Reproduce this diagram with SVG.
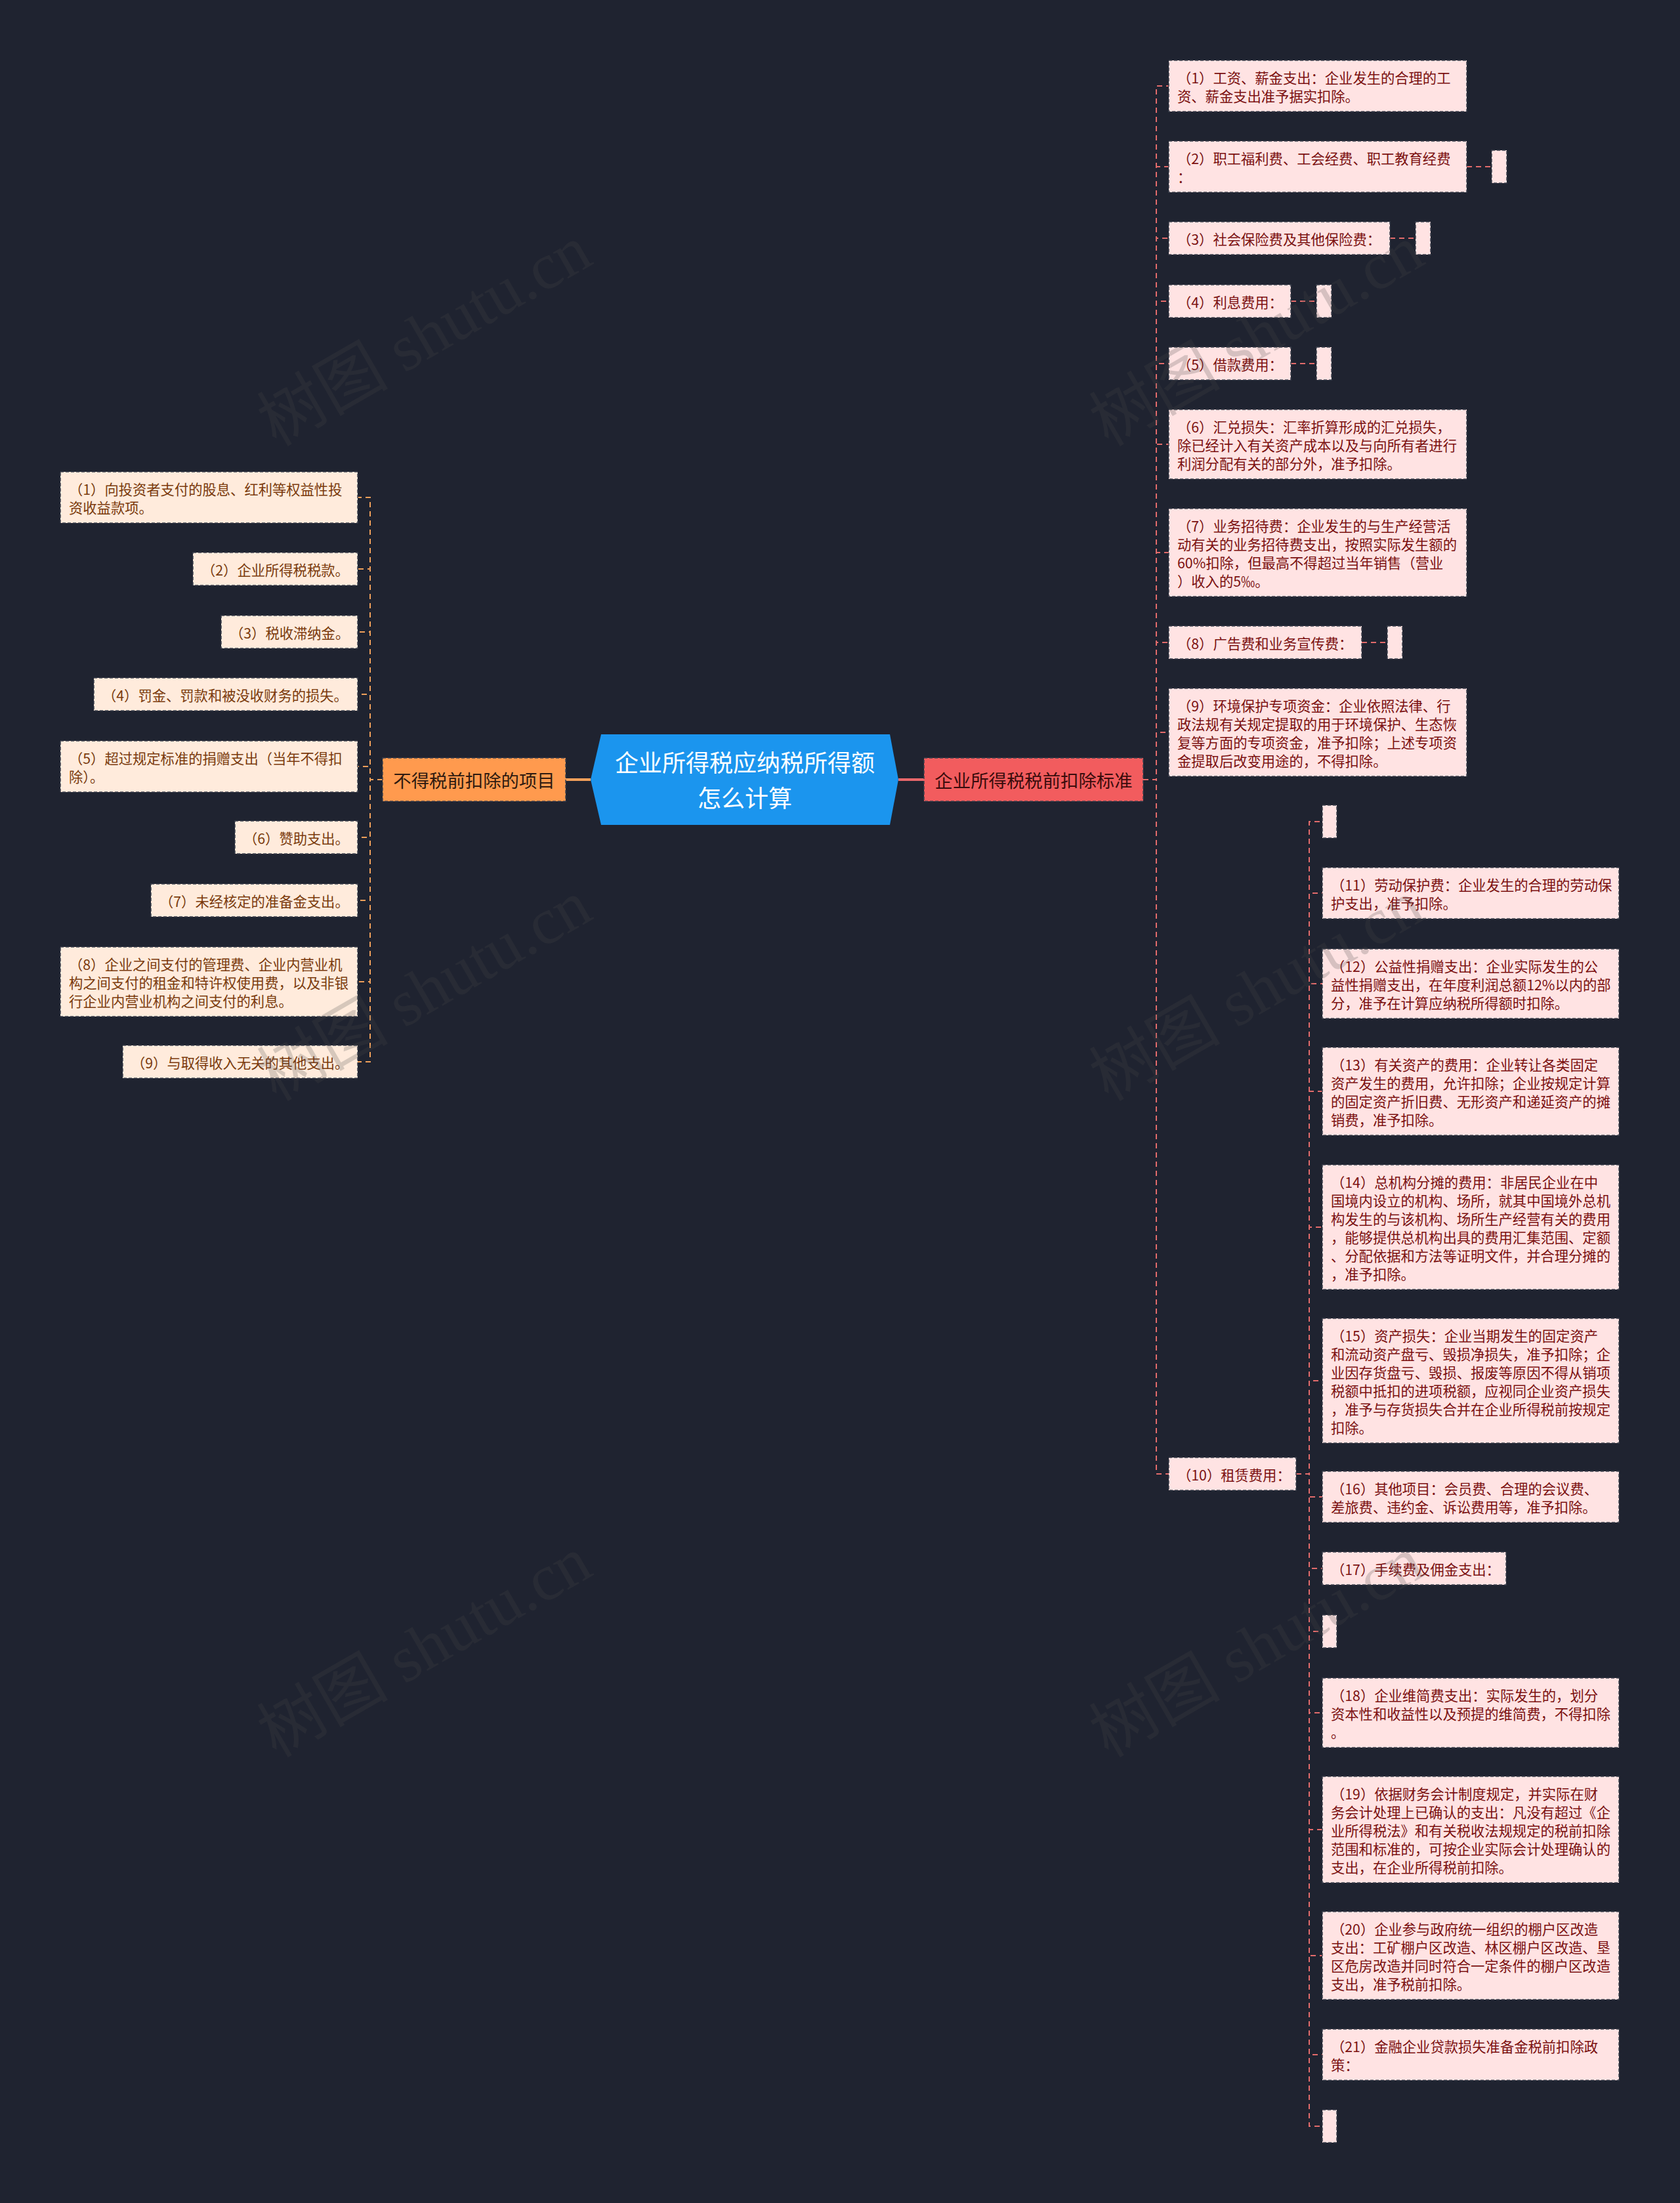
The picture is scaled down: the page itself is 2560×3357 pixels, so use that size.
<svg xmlns="http://www.w3.org/2000/svg" width="2560" height="3357" viewBox="0 0 2560 3357">
<style>
.bg{fill:#1F2330}
.rb{fill:#FFE3E3;stroke:#3d414d;stroke-width:1.5;stroke-dasharray:5 3}
.lb{fill:#FFEBDC;stroke:#3d414d;stroke-width:1.5;stroke-dasharray:5 3}
.t{font-family:"Noto Sans CJK SC","Noto Sans",sans-serif;font-size:21.3px;dominant-baseline:central}
.rt{fill:#7B1010}
.lt{fill:#7A3A0C}
.rc{fill:none;stroke:#E26B6B;stroke-width:2;stroke-dasharray:8 6}
.lc{fill:none;stroke:#F0A05A;stroke-width:2;stroke-dasharray:8 6}
.wm{font-family:"Liberation Serif","Noto Sans CJK SC",serif;font-size:100px;fill:#4a4a4a;opacity:0.22;text-anchor:middle;dominant-baseline:central}
</style>
<rect class="bg" x="0" y="0" width="2560" height="3357"/>

<g id="connectors">
<path d="M900 1188H862" stroke="#F5A05A" stroke-width="4" fill="none"/>
<path d="M1369 1188H1408" stroke="#E8676B" stroke-width="4" fill="none"/>
<path class="rc" d="M1742 1188H1762V131H1781"/>
<path class="rc" d="M1742 1188H1762V254H1781"/>
<path class="rc" d="M1742 1188H1762V363H1781"/>
<path class="rc" d="M1742 1188H1762V459H1781"/>
<path class="rc" d="M1742 1188H1762V554H1781"/>
<path class="rc" d="M1742 1188H1762V677H1781"/>
<path class="rc" d="M1742 1188H1762V842H1781"/>
<path class="rc" d="M1742 1188H1762V979H1781"/>
<path class="rc" d="M1742 1188H1762V1116H1781"/>
<path class="rc" d="M1742 1188H1762V2246H1781"/>
<path class="rc" d="M2235 254H2273"/>
<path class="rc" d="M2118 363H2157"/>
<path class="rc" d="M1967 459H2006"/>
<path class="rc" d="M1967 554H2006"/>
<path class="rc" d="M2075 979H2114"/>
<path class="rc" d="M1975 2246H1995V1252H2015"/>
<path class="rc" d="M1975 2246H1995V1361H2015"/>
<path class="rc" d="M1975 2246H1995V1499H2015"/>
<path class="rc" d="M1975 2246H1995V1663H2015"/>
<path class="rc" d="M1975 2246H1995V1870H2015"/>
<path class="rc" d="M1975 2246H1995V2104H2015"/>
<path class="rc" d="M1975 2246H1995V2281H2015"/>
<path class="rc" d="M1975 2246H1995V2390H2015"/>
<path class="rc" d="M1975 2246H1995V2486H2015"/>
<path class="rc" d="M1975 2246H1995V2610H2015"/>
<path class="rc" d="M1975 2246H1995V2788H2015"/>
<path class="rc" d="M1975 2246H1995V2980H2015"/>
<path class="rc" d="M1975 2246H1995V3131H2015"/>
<path class="rc" d="M1975 2246H1995V3240H2015"/>
<path class="lc" d="M583 1188H564V758H545"/>
<path class="lc" d="M583 1188H564V867H545"/>
<path class="lc" d="M583 1188H564V963H545"/>
<path class="lc" d="M583 1188H564V1058H545"/>
<path class="lc" d="M583 1188H564V1168H545"/>
<path class="lc" d="M583 1188H564V1276H545"/>
<path class="lc" d="M583 1188H564V1372H545"/>
<path class="lc" d="M583 1188H564V1496H545"/>
<path class="lc" d="M583 1188H564V1618H545"/>
</g>

<g id="root">
<polygon points="916,1119 1356,1119 1369,1188 1356,1257 916,1257 900,1188" fill="#1B95EE"/>
<text x="1135" y="1160" font-family="Noto Sans CJK SC, sans-serif" font-size="36" fill="#FFFFFF" text-anchor="middle" dominant-baseline="central">企业所得税应纳税所得额</text>
<text x="1135" y="1214" font-family="Noto Sans CJK SC, sans-serif" font-size="36" fill="#FFFFFF" text-anchor="middle" dominant-baseline="central">怎么计算</text>
</g>

<g id="branch-left">
<rect x="583" y="1155" width="279" height="66" fill="#FF9A4E" stroke="#3d414d" stroke-width="1.5" stroke-dasharray="5 3"/>
<text x="722.5" y="1188" font-family="Noto Sans CJK SC, sans-serif" font-size="27.4" fill="#2E1A10" text-anchor="middle" dominant-baseline="central">不得税前扣除的项目</text>
</g>
<g id="branch-right">
<rect x="1408" y="1155" width="334" height="66" fill="#F25C5E" stroke="#3d414d" stroke-width="1.5" stroke-dasharray="5 3"/>
<text x="1575" y="1188" font-family="Noto Sans CJK SC, sans-serif" font-size="27.4" fill="#3A0C0C" text-anchor="middle" dominant-baseline="central">企业所得税税前扣除标准</text>
</g>

<g id="r1"><rect class="rb" x="1781" y="92" width="454" height="78"/><text class="t rt" x="1794" y="117"><tspan x="1794">（1）工资、薪金支出：企业发生的合理的工</tspan><tspan x="1794" dy="28">资、薪金支出准予据实扣除。</tspan></text></g>
<g id="r2"><rect class="rb" x="1781" y="215" width="454" height="78"/><text class="t rt" x="1794" y="240"><tspan x="1794">（2）职工福利费、工会经费、职工教育经费</tspan><tspan x="1794" dy="28">：</tspan></text></g>
<g id="r2e"><rect class="rb" x="2273" y="229" width="23" height="50"/></g>
<g id="r3"><rect class="rb" x="1781" y="338" width="337" height="50"/><text class="t rt" x="1794" y="363">（3）社会保险费及其他保险费：</text></g>
<g id="r3e"><rect class="rb" x="2157" y="338" width="23" height="50"/></g>
<g id="r4"><rect class="rb" x="1781" y="434" width="186" height="50"/><text class="t rt" x="1794" y="459">（4）利息费用：</text></g>
<g id="r4e"><rect class="rb" x="2006" y="434" width="23" height="50"/></g>
<g id="r5"><rect class="rb" x="1781" y="529" width="186" height="50"/><text class="t rt" x="1794" y="554">（5）借款费用：</text></g>
<g id="r5e"><rect class="rb" x="2006" y="529" width="23" height="50"/></g>
<g id="r6"><rect class="rb" x="1781" y="624" width="454" height="106"/><text class="t rt" x="1794" y="649"><tspan x="1794">（6）汇兑损失：汇率折算形成的汇兑损失，</tspan><tspan x="1794" dy="28">除已经计入有关资产成本以及与向所有者进行</tspan><tspan x="1794" dy="28">利润分配有关的部分外，准予扣除。</tspan></text></g>
<g id="r7"><rect class="rb" x="1781" y="775" width="454" height="134"/><text class="t rt" x="1794" y="800"><tspan x="1794">（7）业务招待费：企业发生的与生产经营活</tspan><tspan x="1794" dy="28">动有关的业务招待费支出，按照实际发生额的</tspan><tspan x="1794" dy="28">60%扣除，但最高不得超过当年销售（营业</tspan><tspan x="1794" dy="28">）收入的5‰。</tspan></text></g>
<g id="r8"><rect class="rb" x="1781" y="954" width="294" height="50"/><text class="t rt" x="1794" y="979">（8）广告费和业务宣传费：</text></g>
<g id="r8e"><rect class="rb" x="2114" y="954" width="23" height="50"/></g>
<g id="r9"><rect class="rb" x="1781" y="1049" width="454" height="134"/><text class="t rt" x="1794" y="1074"><tspan x="1794">（9）环境保护专项资金：企业依照法律、行</tspan><tspan x="1794" dy="28">政法规有关规定提取的用于环境保护、生态恢</tspan><tspan x="1794" dy="28">复等方面的专项资金，准予扣除；上述专项资</tspan><tspan x="1794" dy="28">金提取后改变用途的，不得扣除。</tspan></text></g>
<g id="r10"><rect class="rb" x="1781" y="2221" width="194" height="50"/><text class="t rt" x="1794" y="2246">（10）租赁费用：</text></g>

<g id="c0"><rect class="rb" x="2015" y="1227" width="22" height="50"/></g>
<g id="c11"><rect class="rb" x="2015" y="1322" width="452" height="78"/><text class="t rt" x="2028" y="1347"><tspan x="2028">（11）劳动保护费：企业发生的合理的劳动保</tspan><tspan x="2028" dy="28">护支出，准予扣除。</tspan></text></g>
<g id="c12"><rect class="rb" x="2015" y="1446" width="452" height="106"/><text class="t rt" x="2028" y="1471"><tspan x="2028">（12）公益性捐赠支出：企业实际发生的公</tspan><tspan x="2028" dy="28">益性捐赠支出，在年度利润总额12%以内的部</tspan><tspan x="2028" dy="28">分，准予在计算应纳税所得额时扣除。</tspan></text></g>
<g id="c13"><rect class="rb" x="2015" y="1596" width="452" height="134"/><text class="t rt" x="2028" y="1621"><tspan x="2028">（13）有关资产的费用：企业转让各类固定</tspan><tspan x="2028" dy="28">资产发生的费用，允许扣除；企业按规定计算</tspan><tspan x="2028" dy="28">的固定资产折旧费、无形资产和递延资产的摊</tspan><tspan x="2028" dy="28">销费，准予扣除。</tspan></text></g>
<g id="c14"><rect class="rb" x="2015" y="1775" width="452" height="190"/><text class="t rt" x="2028" y="1800"><tspan x="2028">（14）总机构分摊的费用：非居民企业在中</tspan><tspan x="2028" dy="28">国境内设立的机构、场所，就其中国境外总机</tspan><tspan x="2028" dy="28">构发生的与该机构、场所生产经营有关的费用</tspan><tspan x="2028" dy="28">，能够提供总机构出具的费用汇集范围、定额</tspan><tspan x="2028" dy="28">、分配依据和方法等证明文件，并合理分摊的</tspan><tspan x="2028" dy="28">，准予扣除。</tspan></text></g>
<g id="c15"><rect class="rb" x="2015" y="2009" width="452" height="190"/><text class="t rt" x="2028" y="2034"><tspan x="2028">（15）资产损失：企业当期发生的固定资产</tspan><tspan x="2028" dy="28">和流动资产盘亏、毁损净损失，准予扣除；企</tspan><tspan x="2028" dy="28">业因存货盘亏、毁损、报废等原因不得从销项</tspan><tspan x="2028" dy="28">税额中抵扣的进项税额，应视同企业资产损失</tspan><tspan x="2028" dy="28">，准予与存货损失合并在企业所得税前按规定</tspan><tspan x="2028" dy="28">扣除。</tspan></text></g>
<g id="c16"><rect class="rb" x="2015" y="2242" width="452" height="78"/><text class="t rt" x="2028" y="2267"><tspan x="2028">（16）其他项目：会员费、合理的会议费、</tspan><tspan x="2028" dy="28">差旅费、违约金、诉讼费用等，准予扣除。</tspan></text></g>
<g id="c17"><rect class="rb" x="2015" y="2365" width="280" height="50"/><text class="t rt" x="2028" y="2390">（17）手续费及佣金支出：</text></g>
<g id="ce2"><rect class="rb" x="2015" y="2461" width="22" height="50"/></g>
<g id="c18"><rect class="rb" x="2015" y="2557" width="452" height="106"/><text class="t rt" x="2028" y="2582"><tspan x="2028">（18）企业维简费支出：实际发生的，划分</tspan><tspan x="2028" dy="28">资本性和收益性以及预提的维简费，不得扣除</tspan><tspan x="2028" dy="28">。</tspan></text></g>
<g id="c19"><rect class="rb" x="2015" y="2707" width="452" height="162"/><text class="t rt" x="2028" y="2732"><tspan x="2028">（19）依据财务会计制度规定，并实际在财</tspan><tspan x="2028" dy="28">务会计处理上已确认的支出：凡没有超过《企</tspan><tspan x="2028" dy="28">业所得税法》和有关税收法规规定的税前扣除</tspan><tspan x="2028" dy="28">范围和标准的，可按企业实际会计处理确认的</tspan><tspan x="2028" dy="28">支出，在企业所得税前扣除。</tspan></text></g>
<g id="c20"><rect class="rb" x="2015" y="2913" width="452" height="134"/><text class="t rt" x="2028" y="2938"><tspan x="2028">（20）企业参与政府统一组织的棚户区改造</tspan><tspan x="2028" dy="28">支出：工矿棚户区改造、林区棚户区改造、垦</tspan><tspan x="2028" dy="28">区危房改造并同时符合一定条件的棚户区改造</tspan><tspan x="2028" dy="28">支出，准予税前扣除。</tspan></text></g>
<g id="c21"><rect class="rb" x="2015" y="3092" width="452" height="78"/><text class="t rt" x="2028" y="3117"><tspan x="2028">（21）金融企业贷款损失准备金税前扣除政</tspan><tspan x="2028" dy="28">策：</tspan></text></g>
<g id="ce3"><rect class="rb" x="2015" y="3215" width="22" height="50"/></g>

<g id="l1"><rect class="lb" x="92" y="719" width="453" height="78"/><text class="t lt" x="105" y="744"><tspan x="105">（1）向投资者支付的股息、红利等权益性投</tspan><tspan x="105" dy="28">资收益款项。</tspan></text></g>
<g id="l2"><rect class="lb" x="294" y="842" width="251" height="50"/><text class="t lt" x="307" y="867">（2）企业所得税税款。</text></g>
<g id="l3"><rect class="lb" x="337" y="938" width="208" height="50"/><text class="t lt" x="350" y="963">（3）税收滞纳金。</text></g>
<g id="l4"><rect class="lb" x="143" y="1033" width="402" height="50"/><text class="t lt" x="156" y="1058">（4）罚金、罚款和被没收财务的损失。</text></g>
<g id="l5"><rect class="lb" x="92" y="1129" width="453" height="78"/><text class="t lt" x="105" y="1154"><tspan x="105">（5）超过规定标准的捐赠支出（当年不得扣</tspan><tspan x="105" dy="28">除）。</tspan></text></g>
<g id="l6"><rect class="lb" x="358" y="1251" width="187" height="50"/><text class="t lt" x="371" y="1276">（6）赞助支出。</text></g>
<g id="l7"><rect class="lb" x="230" y="1347" width="315" height="50"/><text class="t lt" x="243" y="1372">（7）未经核定的准备金支出。</text></g>
<g id="l8"><rect class="lb" x="92" y="1443" width="453" height="106"/><text class="t lt" x="105" y="1468"><tspan x="105">（8）企业之间支付的管理费、企业内营业机</tspan><tspan x="105" dy="28">构之间支付的租金和特许权使用费，以及非银</tspan><tspan x="105" dy="28">行企业内营业机构之间支付的利息。</tspan></text></g>
<g id="l9"><rect class="lb" x="187" y="1593" width="358" height="50"/><text class="t lt" x="200" y="1618">（9）与取得收入无关的其他支出。</text></g>

<g id="watermark">
<text class="wm" transform="translate(647 512) rotate(-30)">树图 shutu.cn</text>
<text class="wm" transform="translate(647 1510) rotate(-30)">树图 shutu.cn</text>
<text class="wm" transform="translate(647 2510) rotate(-30)">树图 shutu.cn</text>
<text class="wm" transform="translate(1915 512) rotate(-30)">树图 shutu.cn</text>
<text class="wm" transform="translate(1915 1510) rotate(-30)">树图 shutu.cn</text>
<text class="wm" transform="translate(1915 2510) rotate(-30)">树图 shutu.cn</text>
</g>
</svg>
